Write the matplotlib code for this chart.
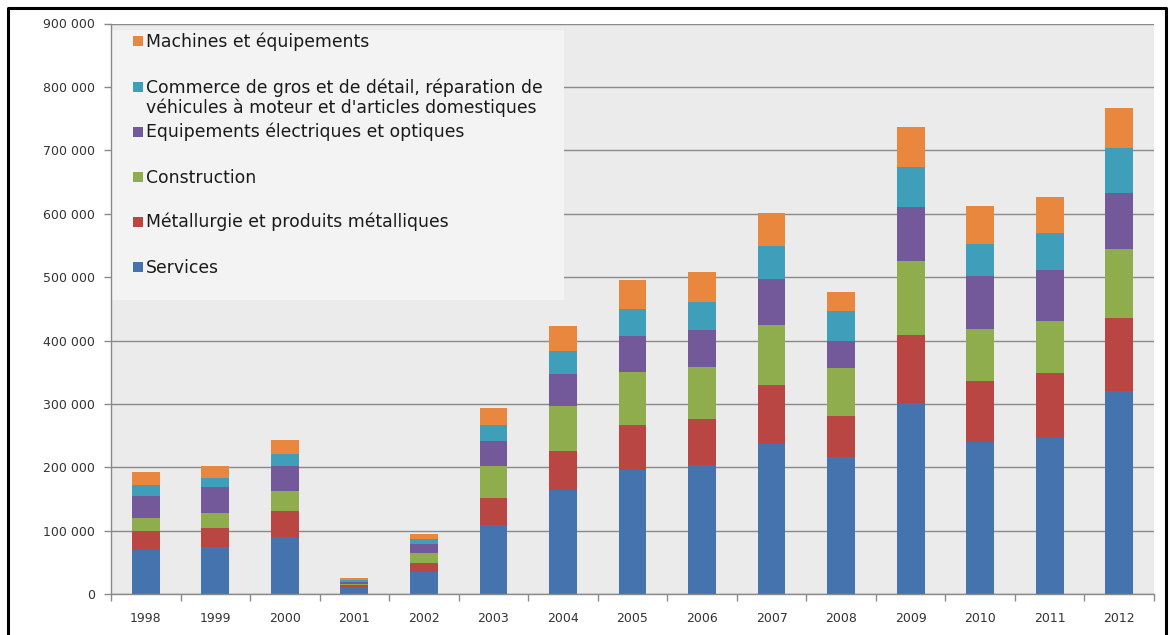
import matplotlib
matplotlib.use("Agg")
import matplotlib.pyplot as plt
from matplotlib.patches import Rectangle
from matplotlib.lines import Line2D
import numpy as np

years = ['1998', '1999', '2000', '2001', '2002', '2003', '2004', '2005',
         '2006', '2007', '2008', '2009', '2010', '2011', '2012']

services = [70000, 74000, 90000, 11000, 35700, 109400, 164700, 196300,
            204200, 236900, 216200, 301100, 240200, 245800, 320700]
metallurgie = [30000, 30200, 41500, 3000, 13300, 42200, 60500, 69900,
               72100, 93600, 65400, 107800, 96100, 102800, 115100]
construction = [20000, 23700, 32100, 2500, 16700, 51000, 71000, 83700,
                81500, 94700, 75400, 116200, 82100, 82700, 108900]
electrique = [35700, 42000, 38000, 3500, 13700, 39900, 51700, 56900,
              59500, 72000, 42400, 85000, 82700, 79900, 87700]
commerce = [16900, 13300, 20000, 2500, 7400, 23700, 35200, 43700,
            43800, 51400, 47000, 63100, 52000, 58100, 71500]
machines = [21000, 19800, 21000, 2500, 8900, 27500, 39500, 45800,
            46700, 53100, 29600, 63700, 59700, 56400, 62600]

series_names = ['Services', 'Métallurgie et produits métalliques', 'Construction',
                'Equipements électriques et optiques',
                "Commerce de gros et de détail, réparation de\nvéhicules à moteur et d'articles domestiques",
                'Machines et équipements']
series_values = [services, metallurgie, construction, electrique, commerce, machines]
colors = ['#4573AE', '#B94643', '#8FAD4C', '#73599A', '#3F9EBA', '#E9873F']

yticks = list(range(0, 900001, 100000))

W, H = 1170, 635
fig = plt.figure(figsize=(W / 100, H / 100), dpi=100)
fig.patch.set_facecolor('white')

def fx(px):
    return px / W

def fy(py):
    return 1 - py / H

ax_left, ax_right, ax_top, ax_bottom = 111, 1154, 23.5, 594.3
ax = fig.add_axes([fx(ax_left), fy(ax_bottom), fx(ax_right - ax_left), (ax_bottom - ax_top) / H])
ax.set_facecolor('#EBEBEB')

x = np.arange(len(years))
bottom = np.zeros(len(years))
for vals, col in zip(series_values, colors):
    ax.bar(x, vals, width=0.4, bottom=bottom, color=col, zorder=2, linewidth=0)
    bottom += np.array(vals)

ax.set_xlim(-0.5, len(years) - 0.5)
ax.set_ylim(0, 900000)
ax.set_yticks(yticks)
ax.set_yticklabels([f"{v:,}".replace(",", " ") for v in yticks])
ax.set_xticks(x)
ax.set_xticklabels(years)
ax.set_xticks(np.arange(-0.5, len(years), 1.0), minor=True)

ax.set_axisbelow(True)
ax.grid(axis='y', color='#8A8A8A', linewidth=1.0, zorder=0.5)
for s in ['top', 'right']:
    ax.spines[s].set_visible(False)
for s in ['left', 'bottom']:
    ax.spines[s].set_color('#8A8A8A')
    ax.spines[s].set_linewidth(1.0)

ax.tick_params(axis='y', direction='out', length=5, width=1, color='#8A8A8A',
               labelsize=9, pad=6.5, labelcolor='#333333')
ax.tick_params(axis='x', which='major', length=0, labelsize=9, pad=13, labelcolor='#333333')
ax.tick_params(axis='x', which='minor', direction='out', length=5, width=1, color='#8A8A8A')

# legend box
ax.add_patch(Rectangle((fx(111.5), fy(300)), fx(564 - 111.5), (300 - 30) / H,
                       transform=fig.transFigure, facecolor='#F3F3F3', edgecolor='none',
                       zorder=1, clip_on=False))

legend_order = [5, 4, 3, 2, 1, 0]
baselines = [46.7, 92.7, 137.3, 182.7, 227.3, 272.7]
for idx, base in zip(legend_order, baselines):
    ax.add_patch(Rectangle((fx(133), fy(base - 0.5)), fx(10), 10 / H,
                           transform=fig.transFigure, facecolor=colors[idx],
                           edgecolor='none', zorder=3, clip_on=False))
    lines = series_names[idx].split('\n')
    for k, line in enumerate(lines):
        fig.text(fx(146), fy(base + k * 20.6), line, fontsize=12.4, color='#1a1a1a',
                 va='baseline', ha='left', zorder=4)

# outer frame
frame = Line2D([fx(8), fx(8), fx(1166), fx(1166)], [fy(640), fy(8), fy(8), fy(640)],
               transform=fig.transFigure, color='black', linewidth=2.2)
fig.add_artist(frame)

fig.savefig('out.png', dpi=100)
